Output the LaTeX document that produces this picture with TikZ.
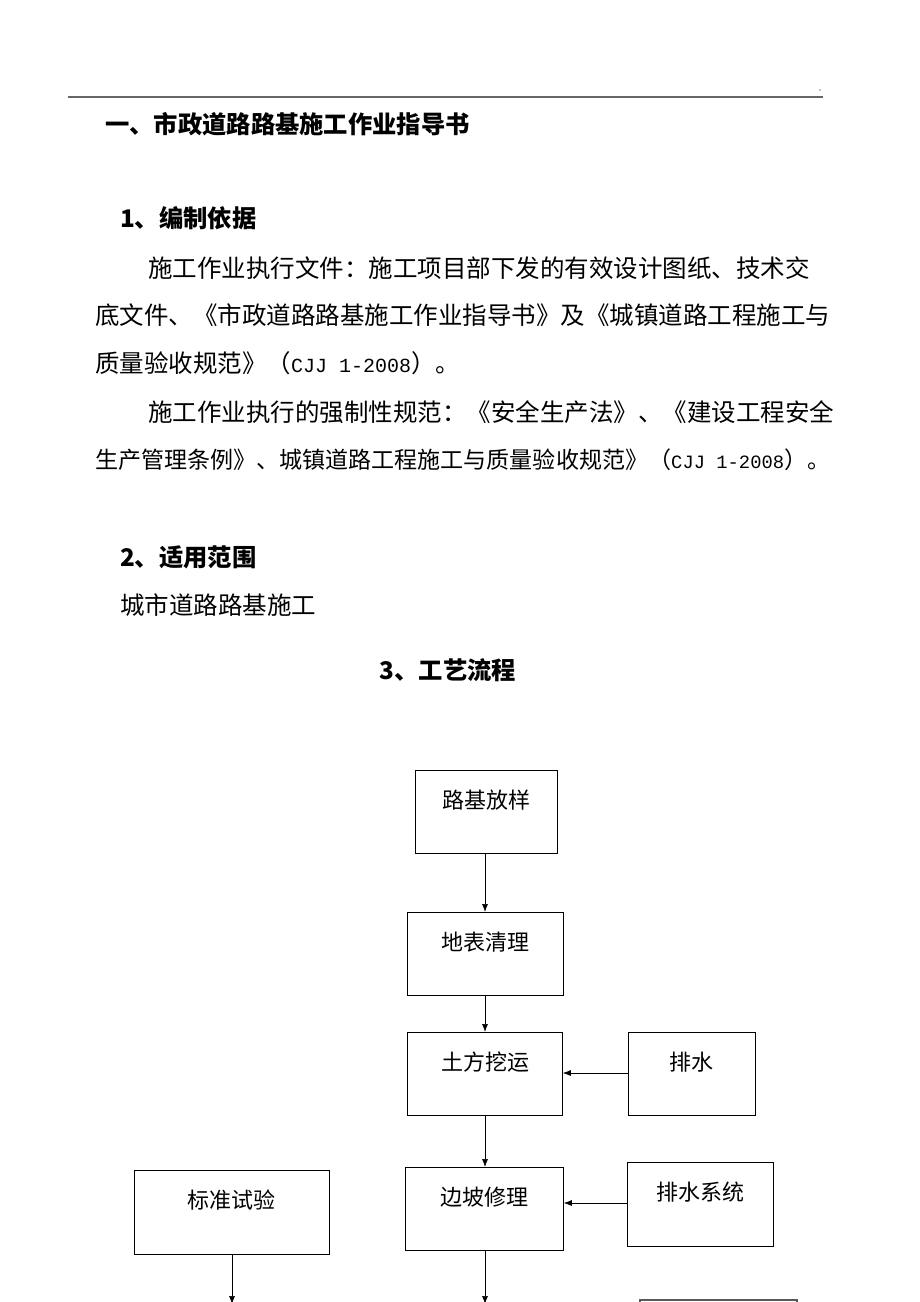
\documentclass[tikz,border=0pt]{standalone}
\usepackage{fontspec}
\usepackage{graphicx}
\setmainfont{Noto Sans CJK SC}
\newfontfamily\mono{Liberation Mono}
\newcommand{\cjjtext}{{\fontsize{20}{20}\selectfont\mono CJJ 1-2008}}
\usetikzlibrary{arrows.meta}
\begin{document}
\begin{tikzpicture}[x=1pt,y=-1pt,
  txt/.style={anchor=west,inner sep=0pt,font=\fontsize{24.5}{24.5}\selectfont},
  head/.style={anchor=west,inner sep=0pt,font=\fontsize{24.3}{24.3}\selectfont\bfseries},
  box/.style={draw,line width=0.8pt,anchor=north west,inner sep=0pt},
  lbl/.style={inner sep=0pt,font=\fontsize{22}{22}\selectfont},
  arr/.style={-{Latex[length=8pt,width=6pt]},line width=0.7pt}]
\useasboundingbox (0,0) rectangle (920,1302);
\draw[line width=1.8pt,gray!80!black] (68,97) -- (823,97);
\fill (820,90) circle (0.6pt);
\node[head] (t0) at (105,124) {一、市政道路路基施工作业指导书};
\node[head] (t1) at (120,218) {1、编制依据};
\node[txt] (p1) at (148,268) {施工作业执行文件：施工项目部下发的有效设计图纸、技术交};
\node[txt] (p2) at (95,315) {底文件、《市政道路路基施工作业指导书》及《城镇道路工程施工与};
\node[txt] (p3) at (95,363) {质量验收规范》（\cjjtext）。};
\node[txt] (p4) at (148,412) {施工作业执行的强制性规范：《安全生产法》、《建设工程安全};
\node[txt] (p5) at (95,460) {\resizebox{735pt}{!}{生产管理条例》、城镇道路工程施工与质量验收规范》（\cjjtext）。}};
\node[head] (t2) at (120,557) {2、适用范围};
\node[txt] (p6) at (120,605) {城市道路路基施工};
\node[head,anchor=center] (t3) at (448,670) {3、工艺流程};

\node[box,minimum width=142pt,minimum height=83pt] (b1) at (415,770) {};
\node[lbl] at (486,800) {路基放样};
\node[box,minimum width=156pt,minimum height=83pt] (b2) at (407,912) {};
\node[lbl] at (485,942) {地表清理};
\node[box,minimum width=155pt,minimum height=83pt] (b3) at (407,1032) {};
\node[lbl] at (485,1062) {土方挖运};
\node[box,minimum width=127pt,minimum height=83pt] (b4) at (628,1032) {};
\node[lbl] at (691,1062) {排水};
\node[box,minimum width=158pt,minimum height=83pt] (b5) at (405,1167) {};
\node[lbl] at (484,1197) {边坡修理};
\node[box,minimum width=146pt,minimum height=84pt] (b6) at (627,1162) {};
\node[lbl] at (700,1192) {排水系统};
\node[box,minimum width=195pt,minimum height=84pt] (b7) at (134,1170) {};
\node[lbl] at (231,1200) {标准试验};
\coordinate (e1) at (232,1304);
\coordinate (e2) at (485,1304);
\draw[line width=1.2pt,gray!70!black] (640,1310) -- (640,1300) -- (797,1300) -- (797,1310);

\draw[arr] (b1.south -| 485,0) -- (b2.north -| 485,0);
\draw[arr] (b2.south -| 485,0) -- (b3.north -| 485,0);
\draw[arr] (b3.south -| 485,0) -- (b5.north -| 485,0);
\draw[arr] (b4.west |- 0,1073) -- (b3.east |- 0,1073);
\draw[arr] (b6.west |- 0,1203) -- (b5.east |- 0,1203);
\draw[arr] (b7.south -| e1) -- (e1);
\draw[arr] (b5.south -| e2) -- (e2);
\end{tikzpicture}
\end{document}
